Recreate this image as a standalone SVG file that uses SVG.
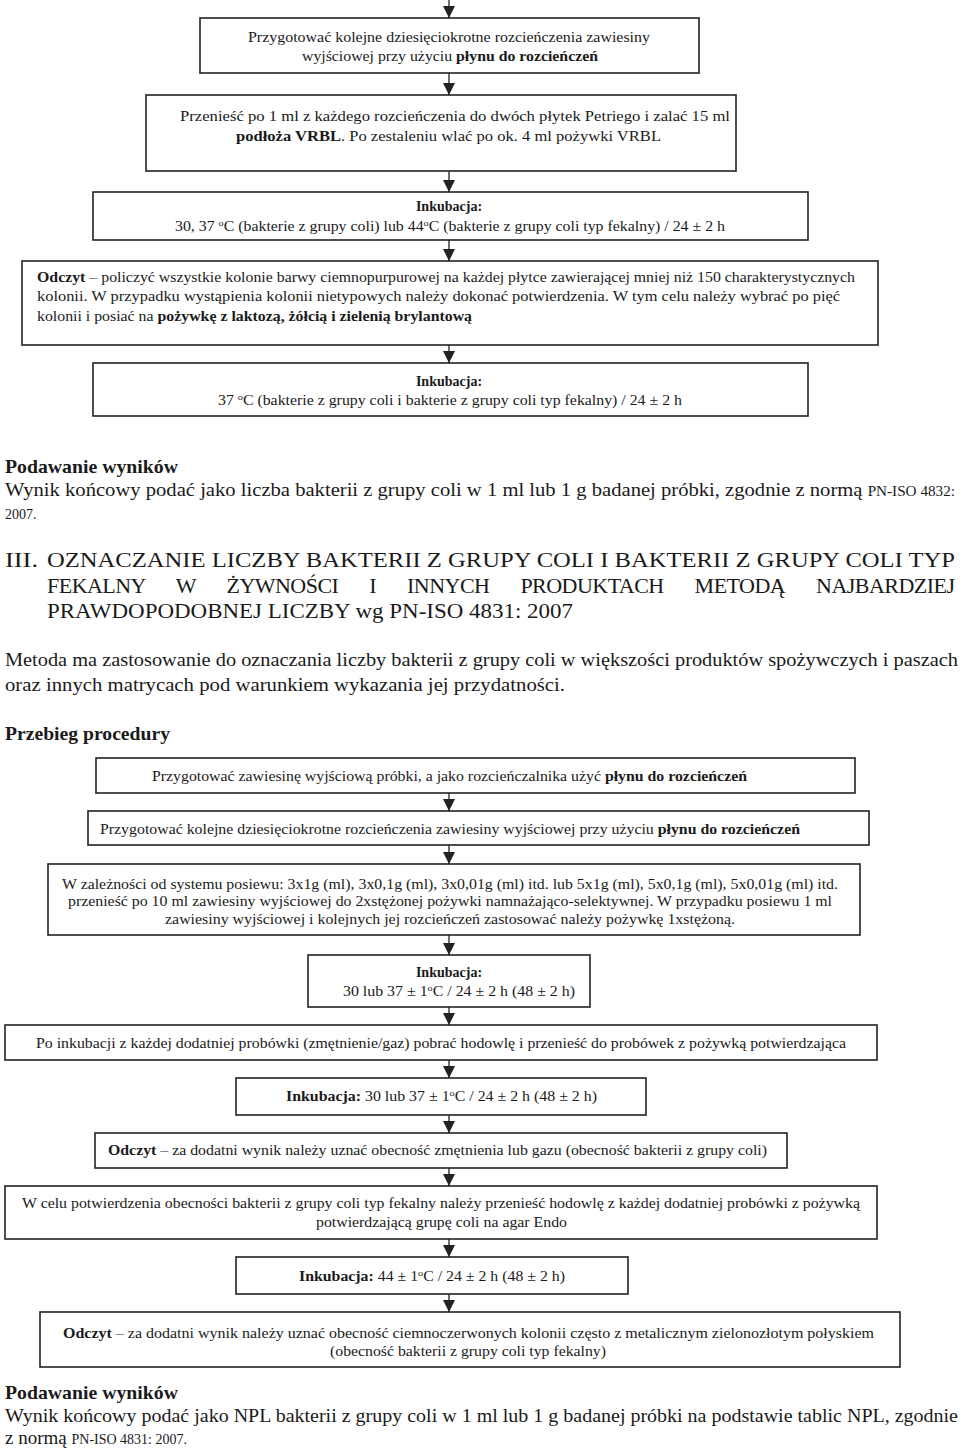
<svg xmlns="http://www.w3.org/2000/svg" width="960" height="1451" viewBox="0 0 960 1451">
<style>
.t{font-family:"Liberation Serif","Times New Roman",serif;font-size:14px;fill:#1a1a1a}
.l{font-size:19px}
.h{font-size:22px}
.s{font-size:14px}
.b{font-weight:bold}
.m{text-anchor:middle}
.box{fill:#fff;stroke:#222;stroke-width:1.6}
.c{stroke:#222;stroke-width:1.3;fill:none}
</style>
<defs>
<marker id="ah" markerUnits="userSpaceOnUse" markerWidth="12" markerHeight="12" refX="12" refY="6" orient="auto">
<path d="M0,0 L12,6 L0,12 z" fill="#222"/>
</marker>
</defs>
<rect width="960" height="1451" fill="#fff"/>

<g id="connectors">
<line class="c" x1="449" y1="0" x2="449" y2="18" marker-end="url(#ah)"/>
<line class="c" x1="449" y1="73" x2="449" y2="95" marker-end="url(#ah)"/>
<line class="c" x1="449" y1="171" x2="449" y2="192" marker-end="url(#ah)"/>
<line class="c" x1="449" y1="240" x2="449" y2="261" marker-end="url(#ah)"/>
<line class="c" x1="449" y1="345" x2="449" y2="363" marker-end="url(#ah)"/>
<line class="c" x1="449" y1="793" x2="449" y2="811" marker-end="url(#ah)"/>
<line class="c" x1="449" y1="845" x2="449" y2="864" marker-end="url(#ah)"/>
<line class="c" x1="449" y1="935" x2="449" y2="955" marker-end="url(#ah)"/>
<line class="c" x1="449" y1="1007" x2="449" y2="1025" marker-end="url(#ah)"/>
<line class="c" x1="449" y1="1060" x2="449" y2="1078" marker-end="url(#ah)"/>
<line class="c" x1="449" y1="1115" x2="449" y2="1133" marker-end="url(#ah)"/>
<line class="c" x1="449" y1="1168" x2="449" y2="1186" marker-end="url(#ah)"/>
<line class="c" x1="449" y1="1239" x2="449" y2="1257" marker-end="url(#ah)"/>
<line class="c" x1="449" y1="1294" x2="449" y2="1312" marker-end="url(#ah)"/>
</g>

<g id="n1">
<rect class="box" x="200" y="18" width="499" height="55"/>
<text class="t" x="248" y="42" textLength="402" lengthAdjust="spacingAndGlyphs">Przygotować kolejne dziesięciokrotne rozcieńczenia zawiesiny</text>
<text class="t" x="302" y="61" textLength="296" lengthAdjust="spacingAndGlyphs">wyjściowej przy użyciu <tspan class="b">płynu do rozcieńczeń</tspan></text>
</g>

<g id="n2">
<rect class="box" x="146" y="95" width="590" height="76"/>
<text class="t" x="180" y="121" textLength="550" lengthAdjust="spacingAndGlyphs">Przenieść po 1 ml z każdego rozcieńczenia do dwóch płytek Petriego i zalać 15 ml</text>
<text class="t" x="236" y="141" textLength="425" lengthAdjust="spacingAndGlyphs"><tspan class="b">podłoża VRBL</tspan>. Po zestaleniu wlać po ok. 4 ml pożywki VRBL</text>
</g>

<g id="n3">
<rect class="box" x="93" y="192" width="715" height="48"/>
<text class="t b m" x="449" y="211">Inkubacja:</text>
<text class="t" x="175" y="231" textLength="550" lengthAdjust="spacingAndGlyphs">30, 37 <tspan font-size="9" dy="-5">o</tspan><tspan dy="5">C (bakterie z grupy coli) lub 44</tspan><tspan font-size="9" dy="-5">o</tspan><tspan dy="5">C (bakterie z grupy coli typ fekalny) / 24 ± 2 h</tspan></text>
</g>

<g id="n4">
<rect class="box" x="22" y="261" width="856" height="84"/>
<text class="t" x="37" y="282" textLength="818" lengthAdjust="spacingAndGlyphs"><tspan class="b">Odczyt</tspan> – policzyć wszystkie kolonie barwy ciemnopurpurowej na każdej płytce zawierającej mniej niż 150 charakterystycznych</text>
<text class="t" x="37" y="301" textLength="803" lengthAdjust="spacingAndGlyphs">kolonii. W przypadku wystąpienia kolonii nietypowych należy dokonać potwierdzenia. W tym celu należy wybrać po pięć</text>
<text class="t" x="37" y="321" textLength="435" lengthAdjust="spacingAndGlyphs">kolonii i posiać na <tspan class="b">pożywkę z laktozą, żółcią i zielenią brylantową</tspan></text>
</g>

<g id="n5">
<rect class="box" x="93" y="363" width="715" height="53"/>
<text class="t b m" x="449" y="386">Inkubacja:</text>
<text class="t" x="218" y="405" textLength="464" lengthAdjust="spacingAndGlyphs">37 <tspan font-size="9" dy="-5">o</tspan><tspan dy="5">C (bakterie z grupy coli i bakterie z grupy coli typ fekalny) / 24 ± 2 h</tspan></text>
</g>

<g id="wyniki1">
<text class="t l b" x="5" y="473" textLength="173" lengthAdjust="spacingAndGlyphs">Podawanie wyników</text>
<text class="t l" x="5" y="496" textLength="950" lengthAdjust="spacingAndGlyphs">Wynik końcowy podać jako liczba bakterii z grupy coli w 1 ml lub 1 g badanej próbki, zgodnie z normą <tspan class="s">PN-ISO 4832:</tspan></text>
<text class="t s" x="5" y="519">2007.</text>
</g>

<g id="title">
<text class="t h" x="5" y="567" textLength="33" lengthAdjust="spacingAndGlyphs">III.</text>
<text class="t h" x="47" y="567" textLength="908" lengthAdjust="spacingAndGlyphs">OZNACZANIE LICZBY BAKTERII Z GRUPY COLI I BAKTERII Z GRUPY COLI TYP</text>
<text class="t h" x="47" y="593" word-spacing="26" textLength="908" lengthAdjust="spacing">FEKALNY W ŻYWNOŚCI I INNYCH PRODUKTACH METODĄ NAJBARDZIEJ</text>
<text class="t h" x="47" y="618" textLength="526" lengthAdjust="spacingAndGlyphs">PRAWDOPODOBNEJ LICZBY wg PN-ISO 4831: 2007</text>
</g>

<g id="intro">
<text class="t l" x="5" y="666" textLength="953" lengthAdjust="spacingAndGlyphs">Metoda ma zastosowanie do oznaczania liczby bakterii z grupy coli w większości produktów spożywczych i paszach</text>
<text class="t l" x="5" y="691" textLength="560" lengthAdjust="spacingAndGlyphs">oraz innych matrycach pod warunkiem wykazania jej przydatności.</text>
<text class="t l b" x="5" y="740" textLength="165" lengthAdjust="spacingAndGlyphs">Przebieg procedury</text>
</g>

<g id="p1">
<rect class="box" x="96" y="758" width="759" height="35"/>
<text class="t" x="152" y="781" textLength="595" lengthAdjust="spacingAndGlyphs">Przygotować zawiesinę wyjściową próbki, a jako rozcieńczalnika użyć <tspan class="b">płynu do rozcieńczeń</tspan></text>
</g>

<g id="p2">
<rect class="box" x="88" y="811" width="781" height="34"/>
<text class="t" x="100" y="834" textLength="700" lengthAdjust="spacingAndGlyphs">Przygotować kolejne dziesięciokrotne rozcieńczenia zawiesiny wyjściowej przy użyciu <tspan class="b">płynu do rozcieńczeń</tspan></text>
</g>

<g id="p3">
<rect class="box" x="48" y="864" width="812" height="71"/>
<text class="t" x="62" y="889" textLength="776" lengthAdjust="spacingAndGlyphs">W zależności od systemu posiewu: 3x1g (ml), 3x0,1g (ml), 3x0,01g (ml) itd. lub 5x1g (ml), 5x0,1g (ml), 5x0,01g (ml) itd.</text>
<text class="t" x="68" y="906" textLength="764" lengthAdjust="spacingAndGlyphs">przenieść po 10 ml zawiesiny wyjściowej do 2xstężonej pożywki namnażająco-selektywnej. W przypadku posiewu 1 ml</text>
<text class="t" x="165" y="924" textLength="570" lengthAdjust="spacingAndGlyphs">zawiesiny wyjściowej i kolejnych jej rozcieńczeń zastosować należy  pożywkę 1xstężoną.</text>
</g>

<g id="p4">
<rect class="box" x="308" y="955" width="282" height="52"/>
<text class="t b m" x="449" y="977">Inkubacja:</text>
<text class="t" x="343" y="996" textLength="232" lengthAdjust="spacingAndGlyphs">30 lub 37 ± 1<tspan font-size="9" dy="-5">o</tspan><tspan dy="5">C / 24 ± 2 h (48 ± 2 h)</tspan></text>
</g>

<g id="p5">
<rect class="box" x="5" y="1025" width="872" height="35"/>
<text class="t" x="36" y="1048" textLength="810" lengthAdjust="spacingAndGlyphs">Po inkubacji z każdej dodatniej probówki (zmętnienie/gaz) pobrać hodowlę i przenieść do probówek z pożywką potwierdzająca</text>
</g>

<g id="p6">
<rect class="box" x="236" y="1078" width="410" height="37"/>
<text class="t" x="286" y="1101" textLength="311" lengthAdjust="spacingAndGlyphs"><tspan class="b">Inkubacja:</tspan> 30 lub 37 ± 1<tspan font-size="9" dy="-5">o</tspan><tspan dy="5">C / 24 ± 2 h (48 ± 2 h)</tspan></text>
</g>

<g id="p7">
<rect class="box" x="95" y="1133" width="692" height="35"/>
<text class="t" x="108" y="1155" textLength="659" lengthAdjust="spacingAndGlyphs"><tspan class="b">Odczyt</tspan> – za dodatni wynik należy uznać obecność zmętnienia lub gazu (obecność bakterii z grupy coli)</text>
</g>

<g id="p8">
<rect class="box" x="5" y="1186" width="872" height="53"/>
<text class="t" x="22" y="1208" textLength="838" lengthAdjust="spacingAndGlyphs">W celu potwierdzenia obecności bakterii z grupy coli typ fekalny należy przenieść hodowlę z każdej dodatniej probówki z pożywką</text>
<text class="t" x="316" y="1227" textLength="251" lengthAdjust="spacingAndGlyphs">potwierdzającą grupę coli na agar Endo</text>
</g>

<g id="p9">
<rect class="box" x="236" y="1257" width="392" height="37"/>
<text class="t" x="299" y="1281" textLength="266" lengthAdjust="spacingAndGlyphs"><tspan class="b">Inkubacja:</tspan> 44 ± 1<tspan font-size="9" dy="-5">o</tspan><tspan dy="5">C / 24 ± 2 h (48 ± 2 h)</tspan></text>
</g>

<g id="p10">
<rect class="box" x="40" y="1312" width="860" height="55"/>
<text class="t" x="63" y="1338" textLength="811" lengthAdjust="spacingAndGlyphs"><tspan class="b">Odczyt</tspan> – za dodatni wynik należy uznać obecność ciemnoczerwonych kolonii często z metalicznym  zielonozłotym  połyskiem</text>
<text class="t" x="330" y="1356" textLength="276" lengthAdjust="spacingAndGlyphs">(obecność bakterii z grupy coli typ fekalny)</text>
</g>

<g id="wyniki2">
<text class="t l b" x="5" y="1399" textLength="173" lengthAdjust="spacingAndGlyphs">Podawanie wyników</text>
<text class="t l" x="5" y="1422" textLength="953" lengthAdjust="spacingAndGlyphs">Wynik końcowy podać jako NPL bakterii z grupy coli w 1 ml lub 1 g badanej próbki na podstawie tablic NPL, zgodnie</text>
<text class="t l" x="5" y="1444">z normą <tspan class="s">PN-ISO 4831: 2007.</tspan></text>
</g>
</svg>
